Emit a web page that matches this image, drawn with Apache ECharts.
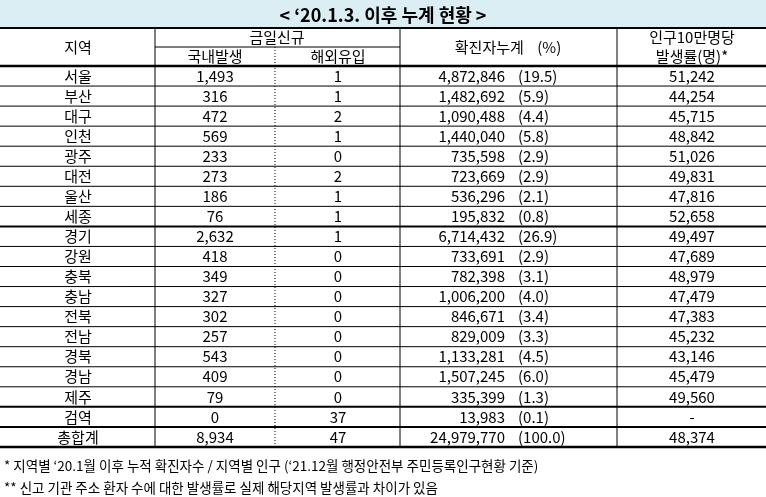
<!DOCTYPE html>
<html><head><meta charset="utf-8">
<script src="https://cdn.jsdelivr.net/npm/echarts@6/dist/echarts.min.js"></script>
<style>html,body{margin:0;background:#fff}#c{width:766px;height:497px}</style>
</head><body><div id="c"></div>
<script>
var regions = ['서울','부산','대구','인천','광주','대전','울산','세종','경기','강원','충북','충남','전북','전남','경북','경남','제주','검역','총합계'];
var domestic = ['1,493','316','472','569','233','273','186','76','2,632','418','349','327','302','257','543','409','79','0','8,934'];
var imported = ['1','1','2','1','0','2','1','1','1','0','0','0','0','0','0','0','0','37','47'];
var cumulative = ['4,872,846','1,482,692','1,090,488','1,440,040','735,598','723,669','536,296','195,832','6,714,432','733,691','782,398','1,006,200','846,671','829,009','1,133,281','1,507,245','335,399','13,983','24,979,770'];
var percent = ['(19.5)','(5.9)','(4.4)','(5.8)','(2.9)','(2.9)','(2.1)','(0.8)','(26.9)','(2.9)','(3.1)','(4.0)','(3.4)','(3.3)','(4.5)','(6.0)','(1.3)','(0.1)','(100.0)'];
var rate = ['51,242','44,254','45,715','48,842','51,026','49,831','47,816','52,658','49,497','47,689','48,979','47,479','47,383','45,232','43,146','45,479','49,560','-','48,374'];
var title = "< ‘20.1.3. 이후 누계 현황 >";
var notes = ["* 지역별 ‘20.1월 이후 누적 확진자수 / 지역별 인구 (‘21.12월 행정안전부 주민등록인구현황 기준)",
             "** 신고 기관 주소 환자 수에 대한 발생률로 실제 해당지역 발생률과 차이가 있음"];

var FONT = '"Noto Sans CJK KR", sans-serif';
var TOP = 66, RH = 20.05;
var thickAbove = {8: true, 17: true, 18: true};

function txt(x, y, s, align, size, weight) {
  return {type: 'text', style: {x: x, y: y, text: s, textAlign: align || 'center', textVerticalAlign: 'middle',
    font: (weight || 'normal') + ' ' + (size || 15) + 'px ' + FONT, fill: '#000'}};
}
function line(x1, y1, x2, y2, w, dash) {
  return {type: 'line', shape: {x1: x1, y1: y1, x2: x2, y2: y2}, style: {stroke: '#000', lineWidth: w || 1, lineDash: dash || null}};
}

var chart = echarts.init(document.getElementById('c'));
chart.setOption({
  animation: false,
  grid: {left: 0, right: 0, top: 0, bottom: 0},
  xAxis: {type: 'value', min: 0, max: 766, show: false},
  yAxis: {type: 'value', min: 0, max: 497, inverse: true, show: false},
  series: [{
    type: 'custom',
    data: regions.map(function (r, i) { return [i]; }).concat([[-1]]),
    renderItem: function (params, api) {
      var i = api.value(0);
      var ch = [];
      if (i === -1) {
        var p0 = api.coord([0, 0]), p1 = api.coord([766, 28]);
        ch.push({type: 'rect', shape: {x: p0[0], y: p0[1], width: p1[0] - p0[0], height: p1[1] - p0[1]}, style: {fill: '#dbeef4'}});
        ch.push(txt(383, 15, title, 'center', 18, 'bold'));
        ch.push(line(0, 28, 766, 28, 2));
        ch.push(line(155, 47, 400, 47, 1));
        ch.push(txt(78, 47, '지역'));
        ch.push(txt(277, 37, '금일신규'));
        ch.push(txt(215, 56, '국내발생'));
        ch.push(txt(338, 56, '해외유입'));
        ch.push(txt(508, 47, '확진자누계    (%)'));
        ch.push(txt(692, 37, '인구10만명당'));
        ch.push(txt(692, 56, '발생률(명)*'));
        ch.push(line(0, TOP, 766, TOP, 2.5));
        [155, 400, 617].forEach(function (x) { ch.push(line(x, 28, x, TOP + 19 * RH, 1)); });
        ch.push(line(275, 47, 275, TOP + 19 * RH, 1, [1, 2]));
        ch.push(line(0, TOP + 19 * RH, 766, TOP + 19 * RH, 2.5));
        ch.push(txt(4, 466, notes[0], 'left', 13.5));
        ch.push(txt(4, 488, notes[1], 'left', 13.5));
        return {type: 'group', children: ch};
      }
      var y = TOP + (i + 0.5) * RH;
      ch.push(txt(78, y, regions[i]));
      ch.push(txt(215, y, domestic[i]));
      ch.push(txt(338, y, imported[i]));
      ch.push(txt(505, y, cumulative[i], 'right'));
      ch.push(txt(518, y, percent[i], 'left'));
      ch.push(txt(692, y, rate[i]));
      if (i > 0) ch.push(line(0, TOP + i * RH, 766, TOP + i * RH, thickAbove[i] ? 2 : 1));
      return {type: 'group', children: ch};
    }
  }]
});
</script></body></html>
